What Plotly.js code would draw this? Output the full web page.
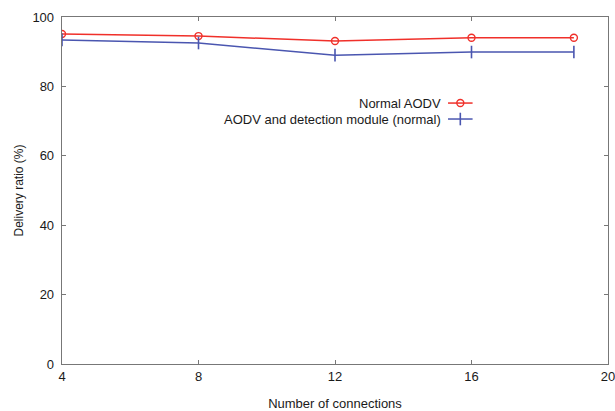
<!DOCTYPE html>
<html><head><meta charset="utf-8">
<script src="https://cdn.plot.ly/plotly-3.0.1.min.js"></script>
<style>html,body{margin:0;padding:0;background:#fff}#c{width:615px;height:411px}</style>
</head><body><div id="c"></div>
<script>
var connections = [4, 8, 12, 16, 19];
var normalAODV = [95.1, 94.5, 93.1, 94.0, 94.0];
var detectionAODV = [93.4, 92.5, 89.0, 89.9, 89.9];
var seriesNames = ["Normal AODV", "AODV and detection module (normal)"];
var xTicks = [4, 8, 12, 16, 20];
var yTicks = [0, 20, 40, 60, 80, 100];

var red = '#f0302a', blue = '#4a56b0';
var font = {family: 'Liberation Sans, Arial, sans-serif', size: 13, color: '#1a1a1a'};

var redMarker = {symbol: 'circle-open', size: 7, color: red, line: {width: 1.4, color: red}};
var blueMarker = {symbol: 'line-ns-open', size: 9, color: blue, line: {width: 1.6, color: blue}};

var traces = [
  {x: connections, y: normalAODV, name: seriesNames[0], mode: 'lines+markers',
   line: {color: red, width: 1.5}, marker: redMarker},
  {x: connections, y: detectionAODV, name: seriesNames[1], mode: 'lines+markers',
   line: {color: blue, width: 1.5}, marker: blueMarker}
];

// legend (text left of sample, as in reference)
var lgX0 = 0.707, lgX1 = 0.752, lgY = [0.752, 0.706];
var shapes = [], annotations = [];
[red, blue].forEach(function(c, i){
  shapes.push({type: 'line', xref: 'paper', yref: 'paper', x0: lgX0, x1: lgX1, y0: lgY[i], y1: lgY[i], line: {color: c, width: 1.5}});
  annotations.push({xref: 'paper', yref: 'paper', x: lgX0 - 0.009, y: lgY[i], xanchor: 'right', yanchor: 'middle',
    text: seriesNames[i], showarrow: false, font: font});
});
traces.push({x: [(lgX0 + lgX1) / 2], y: [lgY[0]], xaxis: 'x2', yaxis: 'y2', mode: 'markers', showlegend: false, hoverinfo: 'skip', marker: redMarker});
traces.push({x: [(lgX0 + lgX1) / 2], y: [lgY[1]], xaxis: 'x2', yaxis: 'y2', mode: 'markers', showlegend: false, hoverinfo: 'skip', marker: blueMarker});

var axisCommon = {showgrid: false, zeroline: false, showline: true, mirror: 'ticks', linecolor: '#777', linewidth: 1.3,
  ticks: 'inside', ticklen: 4, tickcolor: '#777', tickfont: font, ticklabeloverflow: 'allow', automargin: false};

var layout = {
  width: 615, height: 411, margin: {l: 62, r: 7, t: 17, b: 47},
  paper_bgcolor: '#fff', plot_bgcolor: '#fff', showlegend: false,
  xaxis: Object.assign({}, axisCommon, {range: [4, 20], tickvals: xTicks, ticktext: xTicks.map(String),
    title: {text: 'Number of connections', font: font, standoff: 17}}),
  yaxis: Object.assign({}, axisCommon, {range: [0, 100], tickvals: yTicks, ticktext: yTicks.map(String), ticklabelstandoff: 4,
    title: {text: 'Delivery ratio (%)', font: {family: font.family, size: 12, color: '#1a1a1a'}, standoff: 6}}),
  xaxis2: {overlaying: 'x', range: [0, 1], visible: false},
  yaxis2: {overlaying: 'y', range: [0, 1], visible: false},
  shapes: shapes, annotations: annotations
};
Plotly.newPlot('c', traces, layout, {displayModeBar: false, staticPlot: true});
</script></body></html>
